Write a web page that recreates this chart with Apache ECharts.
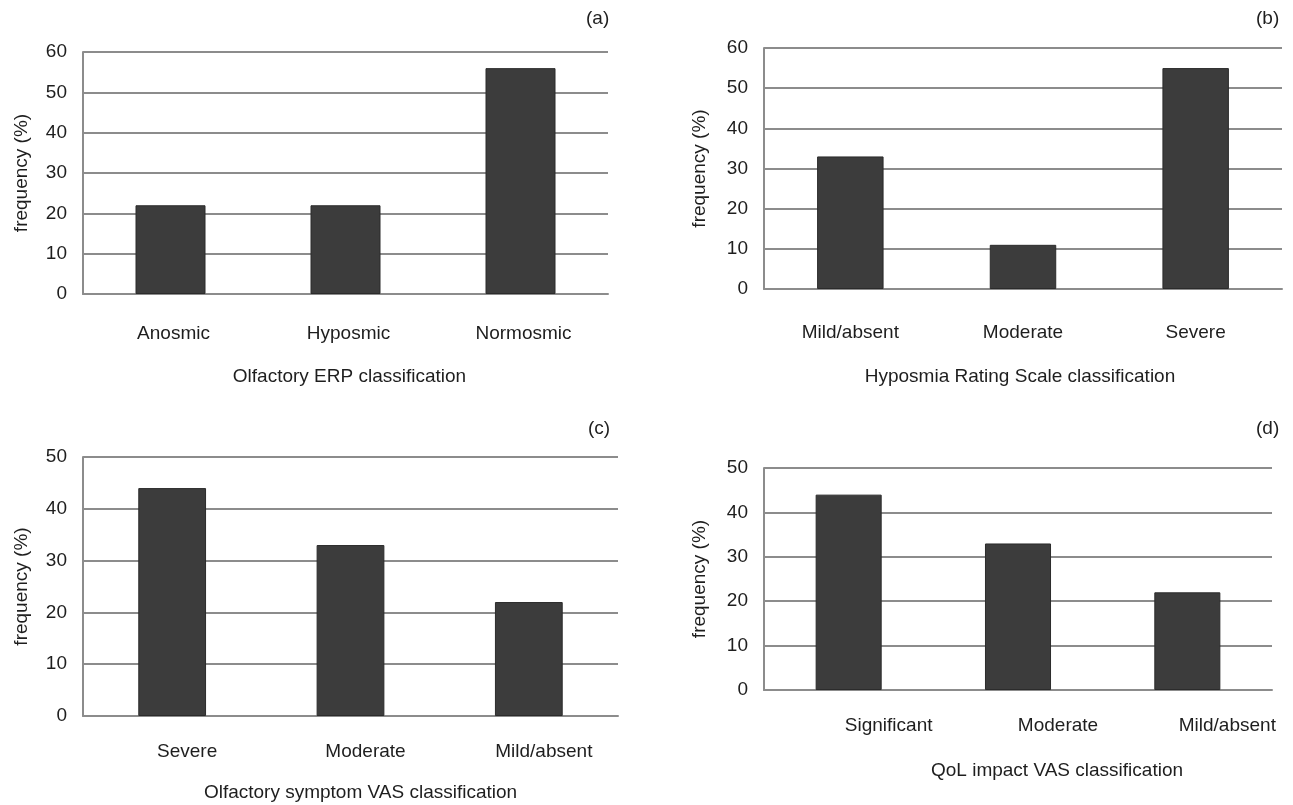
<!DOCTYPE html>
<html>
<head>
<meta charset="utf-8">
<script src="https://cdn.jsdelivr.net/npm/echarts@6/dist/echarts.min.js"></script>
<style>
html,body{margin:0;padding:0;background:#fff;}
#c{width:1293px;height:805px;}
</style>
</head>
<body>
<div id="c"></div>
<script>
// ---- data ----
const catsA = ['Anosmic', 'Hyposmic', 'Normosmic'];
const valsA = [22, 22, 56];
const titleA = 'Olfactory ERP classification';

const catsB = ['Mild/absent', 'Moderate', 'Severe'];
const valsB = [33, 11, 55];
const titleB = 'Hyposmia Rating Scale classification';

const catsC = ['Severe', 'Moderate', 'Mild/absent'];
const valsC = [44, 33, 22];
const titleC = 'Olfactory symptom VAS classification';

const catsD = ['Significant', 'Moderate', 'Mild/absent'];
const valsD = [44, 33, 22];
const titleD = 'QoL impact VAS classification';

const yTitle = 'frequency (%)';
const panelLabels = ['(a)', '(b)', '(c)', '(d)'];

// ---- styling / layout ----
const FONT = '"Liberation Sans", Arial, sans-serif';
const FS = 19;
const TXT = '#1e1e1e';
const GRIDC = '#8c8c8c';
const BARC = '#3c3c3c';

const panels = [
  {cats: catsA, vals: valsA, name: titleA, max: 60,
   grid: {left: 83, top: 52, width: 525, height: 242},
   labMargin: 30, labShift: 3, nameGap: 73, nameShift: 4, yGap: 52, barW: '40%',
   tag: {left: 586, top: 9}},
  {cats: catsB, vals: valsB, name: titleB, max: 60,
   grid: {left: 764, top: 48, width: 518, height: 241},
   labMargin: 34, labShift: 0, nameGap: 78, nameShift: -3, yGap: 55, barW: '38.5%',
   tag: {left: 1256, top: 9}},
  {cats: catsC, vals: valsC, name: titleC, max: 50,
   grid: {left: 83, top: 457, width: 535, height: 259},
   labMargin: 26, labShift: 15, nameGap: 67, nameShift: 10, yGap: 52, barW: '38%',
   tag: {left: 588, top: 419}},
  {cats: catsD, vals: valsD, name: titleD, max: 50,
   grid: {left: 764, top: 468, width: 508, height: 222},
   labMargin: 26, labShift: 40, nameGap: 71, nameShift: 39, yGap: 55, barW: '39%',
   tag: {left: 1256, top: 419}}
];

function pad(shift) {
  return shift >= 0 ? [0, 0, 0, 2 * shift] : [0, -2 * shift, 0, 0];
}

const option = {
  animation: false,
  backgroundColor: '#ffffff',
  title: panels.map((p, i) => ({
    text: panelLabels[i], left: p.tag.left, top: p.tag.top, padding: 0,
    textStyle: {fontFamily: FONT, fontSize: FS, fontWeight: 'normal', color: TXT}
  })),
  grid: panels.map(p => Object.assign({containLabel: false}, p.grid)),
  xAxis: panels.map((p, i) => ({
    type: 'category', gridIndex: i, data: p.cats,
    axisLine: {show: true, lineStyle: {color: GRIDC, width: 2}},
    axisTick: {show: false},
    axisLabel: {margin: p.labMargin, color: TXT, fontFamily: FONT, fontSize: FS,
                padding: pad(p.labShift)},
    name: p.name, nameLocation: 'middle', nameGap: p.nameGap,
    nameTextStyle: {color: TXT, fontFamily: FONT, fontSize: FS, padding: pad(p.nameShift)}
  })),
  yAxis: panels.map((p, i) => ({
    type: 'value', gridIndex: i, min: 0, max: p.max, interval: 10,
    axisLine: {show: true, lineStyle: {color: GRIDC, width: 2}},
    axisTick: {show: false},
    splitLine: {show: true, lineStyle: {color: GRIDC, width: 2}},
    axisLabel: {margin: 16, color: TXT, fontFamily: FONT, fontSize: FS},
    name: yTitle, nameLocation: 'middle', nameGap: p.yGap, nameRotate: 90,
    nameTextStyle: {color: TXT, fontFamily: FONT, fontSize: FS}
  })),
  series: panels.map((p, i) => ({
    type: 'bar', xAxisIndex: i, yAxisIndex: i, data: p.vals,
    barWidth: p.barW,
    itemStyle: {color: BARC, borderColor: '#2b2b2b', borderWidth: 1}
  }))
};

const chart = echarts.init(document.getElementById('c'), null, {renderer: 'canvas'});
chart.setOption(option);
</script>
</body>
</html>
